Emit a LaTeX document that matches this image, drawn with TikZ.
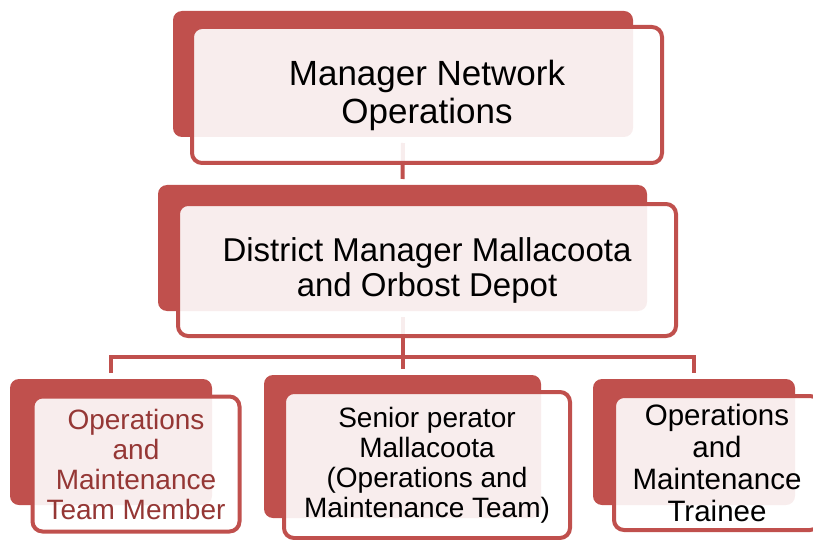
\documentclass[tikz,border=0pt]{standalone}
\usepackage{fontspec}
\setmainfont{Liberation Sans}
\definecolor{accent}{HTML}{C0504D}
\definecolor{darkaccent}{HTML}{953735}
\begin{document}
\begin{tikzpicture}[x=1pt,y=-1pt,
  backbox/.style={fill=accent,draw=none,rounded corners=9pt,inner sep=0pt,outer sep=0pt},
  frontbox/.style={fill=white,fill opacity=0.9,text opacity=1,draw=accent,line width=4pt,
    rounded corners=10pt,inner sep=0pt,outer sep=0pt,align=center},
  conn/.style={draw=accent,line width=4pt},
  bigtext/.style={font=\fontsize{35}{38}\selectfont},
  midtext/.style={font=\fontsize{33}{35}\selectfont},
  smalltext/.style={font=\fontsize{28}{30}\selectfont},
  righttext/.style={font=\fontsize{29.5}{32}\selectfont}]
\useasboundingbox (0,0) rectangle (813,540);
% back boxes
\node[backbox,minimum width=460pt,minimum height=126pt] (b1) at (403,74) {};
\node[backbox,minimum width=489pt,minimum height=126pt] (b2) at (402.5,248) {};
\node[backbox,minimum width=202pt,minimum height=126pt] (b3L) at (111,442) {};
\node[backbox,minimum width=277pt,minimum height=143pt] (b3M) at (402.5,446.5) {};
\node[backbox,minimum width=202pt,minimum height=126pt] (b3R) at (694,442) {};
% connectors
\coordinate (bar) at (402.5,357);
\draw[conn] ([yshift=-6pt]b1.south) -- ([yshift=6pt]b2.north);
\draw[conn] ([yshift=-6pt]b2.south) -- (bar);
\draw[conn] ([yshift=6pt]b3L.north) |- (bar) -| ([yshift=6pt]b3R.north);
\draw[conn] (bar) -- ([yshift=6pt]b3M.north);
% front boxes
\node[frontbox,bigtext,minimum width=470pt,minimum height=136pt] (f1) at (427,95) {Manager Network\\Operations};
\node[frontbox,midtext,minimum width=498pt,minimum height=132pt] (f2) at (427,270) {District Manager Mallacoota\\and Orbost Depot};
\node[frontbox,smalltext,text=darkaccent,minimum width=207pt,minimum height=135pt] (f3L) at (136,464) {Operations\\and\\Maintenance\\Team Member};
\node[frontbox,smalltext,minimum width=286pt,minimum height=146pt] (f3M) at (427,465) {Senior perator\\Mallacoota\\(Operations and\\Maintenance Team)};
\node[frontbox,righttext,minimum width=206pt,minimum height=134pt] (f3R) at (717,463) {Operations\\and\\Maintenance\\Trainee};
\end{tikzpicture}
\end{document}
